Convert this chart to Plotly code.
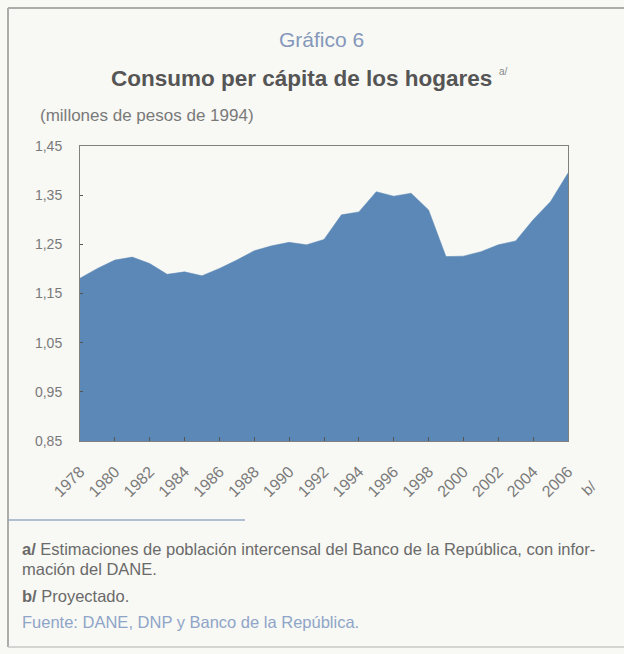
import plotly.graph_objects as go

# Consumo per cápita de los hogares (millones de pesos de 1994)
years = list(range(1978, 2007))
consumo = [1.181, 1.201, 1.218, 1.224, 1.211, 1.189, 1.194, 1.186, 1.201, 1.218,
           1.237, 1.247, 1.254, 1.249, 1.260, 1.310, 1.316, 1.357, 1.348, 1.354,
           1.320, 1.225, 1.226, 1.235, 1.249, 1.257, 1.300, 1.337, 1.395]

x_ticks = list(range(1978, 2007, 2))
y_ticks = [0.85, 0.95, 1.05, 1.15, 1.25, 1.35, 1.45]
y_tick_labels = ["0,85", "0,95", "1,05", "1,15", "1,25", "1,35", "1,45"]

W, H = 624, 654
L, R, T, B = 80, 568, 146, 441  # plot area in pixels

def px(x):
    return (x - L) / (R - L)

def py(y):
    return (B - y) / (B - T)

SANS = "Liberation Sans, Arial, sans-serif"
BLUE = "#5b88b6"
GREY_TXT = "#7a7a7a"
NOTE_TXT = "#6a6a6a"

fig = go.Figure()
fig.add_trace(go.Scatter(
    x=years, y=consumo, mode="lines", fill="tozeroy",
    fillcolor=BLUE, line=dict(color=BLUE, width=0.5),
    hoverinfo="x+y", showlegend=False,
))

annotations = [
    dict(text="Gráfico 6", x=px(321), y=py(40), font=dict(family=SANS, size=21, color="#8598bb")),
    dict(text="<b>Consumo per cápita de los hogares</b>", x=px(109), y=py(78), xanchor="left",
         font=dict(family=SANS, size=22.5, color="#555555")),
    dict(text="a/", x=px(497), y=py(71), xanchor="left", font=dict(family=SANS, size=10, color="#888888")),
    dict(text="(millones de pesos de 1994)", x=px(38), y=py(115), xanchor="left",
         font=dict(family=SANS, size=17, color=GREY_TXT)),
    dict(text="b/", x=px(588), y=py(488), textangle=-45,
         font=dict(family=SANS, size=15, color=GREY_TXT)),
    dict(text="<b>a/</b> Estimaciones de población intercensal del Banco de la República, con infor-",
         x=px(20), y=py(549), xanchor="left", font=dict(family=SANS, size=16.5, color=NOTE_TXT)),
    dict(text="mación del DANE.", x=px(20), y=py(569), xanchor="left",
         font=dict(family=SANS, size=16.5, color=NOTE_TXT)),
    dict(text="<b>b/</b> Proyectado.", x=px(20), y=py(596), xanchor="left",
         font=dict(family=SANS, size=16.5, color=NOTE_TXT)),
    dict(text="Fuente: DANE, DNP y Banco de la República.", x=px(20), y=py(622), xanchor="left",
         font=dict(family=SANS, size=16.5, color="#8fa5c8")),
]
for a in annotations:
    a.update(xref="paper", yref="paper", showarrow=False)
    a.setdefault("xanchor", "center")
    a.setdefault("yanchor", "middle")

shapes = [
    # outer frame
    dict(type="line", x0=px(8), x1=px(624), y0=py(8), y1=py(8), line=dict(color="#acacac", width=2)),
    dict(type="line", x0=px(8), x1=px(8), y0=py(8), y1=py(647), line=dict(color="#acacac", width=2)),
    dict(type="line", x0=px(8), x1=px(624), y0=py(647), y1=py(647), line=dict(color="#c8c8c8", width=1.5)),
    # footnote rule
    dict(type="line", x0=px(8), x1=px(245), y0=py(520), y1=py(520), line=dict(color="#9aaccb", width=1.5)),
]
for s in shapes:
    s.update(xref="paper", yref="paper", layer="above")

fig.update_layout(
    width=W, height=H,
    margin=dict(l=L, r=W - R, t=T, b=H - B, pad=0),
    paper_bgcolor="#f8f8f4", plot_bgcolor="#f8f8f4",
    annotations=annotations, shapes=shapes,
    showlegend=False,
)
fig.update_xaxes(
    range=[1978, 2006], tickvals=x_ticks, ticktext=[str(v) for v in x_ticks],
    tickangle=-45, ticks="inside", ticklen=4, tickcolor="#555555",
    showgrid=False, zeroline=False, showline=True, linecolor="#808080", linewidth=1, mirror=True,
    tickfont=dict(family=SANS, size=16, color=GREY_TXT), ticklabelstandoff=14,
)
fig.update_yaxes(
    range=[0.85, 1.45], tickvals=y_ticks, ticktext=y_tick_labels,
    ticks="inside", ticklen=3, tickcolor="#555555",
    showgrid=False, zeroline=False, showline=True, linecolor="#808080", linewidth=1, mirror=True,
    tickfont=dict(family=SANS, size=14, color=GREY_TXT), ticklabelstandoff=14,
)

fig.write_html("out.html")
